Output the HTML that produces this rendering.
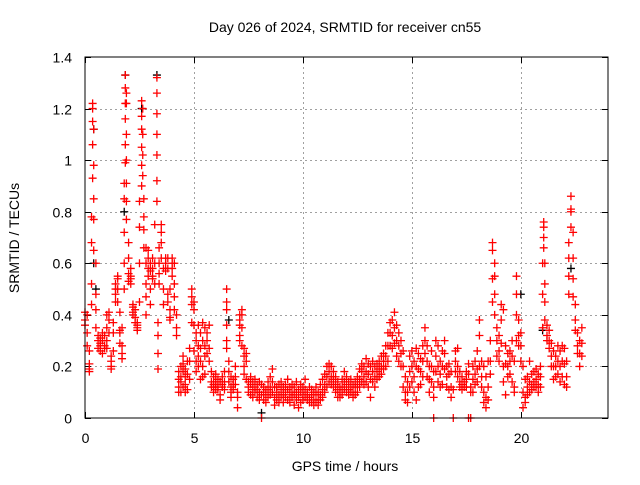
<!DOCTYPE html>
<html><head><meta charset="utf-8"><style>
body{margin:0;background:#fff}
text{font-family:"Liberation Sans",sans-serif;font-size:14px;fill:#000}
</style></head><body>
<svg id="chart" width="640" height="480" xmlns="http://www.w3.org/2000/svg">
<rect width="640" height="480" fill="#fff"/>
<text x="345" y="32" text-anchor="middle">Day 026 of 2024, SRMTID for receiver cn55</text>
<text x="345" y="471" text-anchor="middle">GPS time / hours</text>
<text transform="translate(19,238) rotate(-90)" text-anchor="middle">SRMTID / TECUs</text>
<g id="grid"></g><g id="ticks"></g><g id="marks"></g>
<rect x="85" y="57" width="523" height="361" fill="none" stroke="#000"/>
</svg>
<script>
const xTicks=[0,5,10,15,20];
const yTicks=[0,0.2,0.4,0.6,0.8,1,1.2,1.4];
const yTickLabels=["0","0.2","0.4","0.6","0.8","1","1.2","1.4"];
const hours=[0,0.1,0.2,0.3,0.35,0.4,0.5,0.6,0.7,0.8,0.9,1.0,1.1,1.2,1.3,1.4,1.5,1.6,1.7,1.8,1.85,1.9,2.0,2.1,2.2,2.3,2.4,2.5,2.6,2.65,2.7,2.8,2.9,3.0,3.1,3.2,3.3,3.35,3.4,3.5,3.6,3.7,3.8,3.9,4.0,4.1,4.2,4.3,4.4,4.5,4.6,4.7,4.8,4.9,5.0,5.1,5.2,5.3,5.4,5.5,5.6,5.7,5.8,5.9,6.0,6.1,6.2,6.3,6.4,6.5,6.6,6.7,6.8,6.9,7.0,7.1,7.2,7.3,7.4,7.5,7.6,7.7,7.8,7.9,8.0,8.1,8.2,8.3,8.4,8.5,8.6,8.7,8.8,8.9,9.0,9.1,9.2,9.3,9.4,9.5,9.6,9.7,9.8,9.9,10.0,10.1,10.2,10.3,10.4,10.5,10.6,10.7,10.8,10.9,11.0,11.1,11.2,11.3,11.4,11.5,11.6,11.7,11.8,11.9,12.0,12.1,12.2,12.3,12.4,12.5,12.6,12.7,12.8,12.9,13.0,13.1,13.2,13.3,13.4,13.5,13.6,13.7,13.8,13.9,14.0,14.1,14.2,14.3,14.4,14.5,14.6,14.7,14.8,14.9,15.0,15.1,15.2,15.3,15.4,15.5,15.6,15.7,15.8,15.9,16.0,16.1,16.2,16.3,16.4,16.5,16.6,16.7,16.8,16.9,17.0,17.1,17.2,17.3,17.4,17.5,17.6,17.7,17.8,17.9,18.0,18.1,18.2,18.3,18.4,18.5,18.6,18.7,18.8,18.9,19.0,19.1,19.2,19.3,19.4,19.5,19.6,19.7,19.8,19.9,20.0,20.1,20.2,20.3,20.4,20.5,20.6,20.7,20.8,20.9,21.0,21.05,21.1,21.2,21.3,21.4,21.5,21.6,21.7,21.8,21.9,22.0,22.1,22.2,22.3,22.4,22.5,22.6,22.7,22.8];
const srmtid=[[0.38,0.41,0.36],[0.40,0.33,0.28],[0.19,0.18,0.26,0.21],[0.44,0.52,0.68,0.78],[0.93,1.06,1.15,1.2,1.22],[1.12,0.98,0.85,0.77,0.65],[0.6,0.48,0.42,0.35],[0.3,0.27,0.32],[0.26,0.29,0.31,0.28],[0.30,0.33,0.25],[0.28,0.32,0.27],[0.35,0.40,0.30,0.27],[0.38,0.41,0.33],[0.22,0.2,0.19,0.24],[0.26,0.33,0.37],[0.45,0.5,0.52,0.48],[0.54,0.55,0.5,0.45],[0.41,0.34,0.33,0.29],[0.23,0.25,0.28,0.35],[0.5,0.6,0.72,0.85,0.91],[0.99,1.06,1.16,1.22,1.28,1.33],[1.26,1.22,1.1,1.0,0.91,0.84,0.77],[0.68,0.62,0.56,0.53],[0.55,0.58,0.52,0.54],[0.44,0.43,0.41,0.4],[0.42,0.39,0.37],[0.36,0.35,0.37,0.34],[0.45,0.6,0.74,0.84],[0.9,0.98,1.05,1.12,1.17,1.23],[1.2,1.1,1.02,0.94],[0.85,0.78,0.73,0.66],[0.6,0.52,0.47,0.4,0.66],[0.65,0.62,0.58,0.55],[0.6,0.57,0.5,0.44],[0.55,0.58,0.54,0.62],[0.75,0.6,0.52],[0.84,0.92,1.02,1.1,1.18,1.26,1.32],[0.32,0.25,0.19,0.37],[0.52,0.56,0.6,0.66],[0.75,0.72,0.68,0.62],[0.58,0.44,0.5],[0.62,0.6,0.57],[0.62,0.58,0.48,0.45],[0.38,0.39,0.42,0.5],[0.55,0.6,0.62,0.58],[0.6,0.52,0.47,0.42],[0.4,0.35,0.32],[0.1,0.15,0.18,0.12],[0.14,0.2,0.16,0.1],[0.24,0.18,0.12,0.21],[0.16,0.13,0.1,0.19],[0.22,0.17,0.11],[0.27,0.22,0.15],[0.37,0.44,0.47,0.5],[0.45,0.42,0.36,0.26],[0.33,0.3,0.22,0.18],[0.36,0.28,0.24,0.2],[0.33,0.27,0.22,0.15],[0.37,0.3,0.2,0.16],[0.35,0.28,0.24,0.17],[0.3,0.33,0.25],[0.36,0.27,0.22],[0.18,0.14,0.12],[0.16,0.12,0.1,0.13],[0.14,0.11,0.13,0.17],[0.12,0.15,0.11],[0.14,0.09,0.07],[0.13,0.16,0.12],[0.18,0.14,0.11],[0.5,0.45,0.42,0.36,0.3,0.27],[0.22,0.18,0.14],[0.16,0.12,0.1,0.08],[0.15,0.13,0.11],[0.2,0.16,0.13],[0.1,0.08,0.04],[0.4,0.38,0.36,0.32,0.3],[0.42,0.4,0.35,0.28],[0.27,0.24,0.2,0.17],[0.25,0.22,0.15],[0.12,0.1,0.14],[0.13,0.09,0.16],[0.11,0.14,0.08],[0.12,0.15,0.1],[0.08,0.11,0.13],[0.14,0.1,0.07],[0.0,0.13,0.09],[0.12,0.1,0.07],[0.09,0.06,0.11],[0.14,0.11,0.08],[0.16,0.12,0.09],[0.19,0.14,0.1],[0.12,0.08,0.05],[0.1,0.07,0.12],[0.13,0.09,0.06],[0.11,0.08,0.14],[0.09,0.12,0.06],[0.1,0.13,0.08],[0.15,0.11,0.07],[0.09,0.06,0.12],[0.13,0.1,0.08],[0.12,0.09,0.05],[0.14,0.1,0.07],[0.11,0.08,0.04],[0.13,0.1,0.06],[0.12,0.09,0.07],[0.15,0.11,0.08],[0.1,0.07,0.09],[0.12,0.08,0.06],[0.09,0.06,0.11],[0.07,0.05,0.1],[0.12,0.09,0.06],[0.1,0.07,0.05],[0.13,0.09,0.07],[0.15,0.11,0.08],[0.17,0.13,0.1],[0.2,0.16,0.12],[0.21,0.18,0.14],[0.2,0.16,0.13],[0.18,0.15,0.12],[0.16,0.13,0.1],[0.14,0.11,0.08],[0.12,0.1,0.08],[0.15,0.12,0.09],[0.18,0.14,0.11],[0.16,0.13,0.1],[0.14,0.11,0.09],[0.15,0.12,0.1],[0.13,0.1,0.08],[0.14,0.12,0.09],[0.16,0.13,0.1],[0.19,0.15,0.12],[0.21,0.18,0.14],[0.2,0.16,0.13],[0.23,0.18,0.14],[0.21,0.17,0.12],[0.2,0.15,0.08],[0.22,0.18,0.14],[0.2,0.16,0.12],[0.21,0.18,0.15],[0.22,0.19,0.16],[0.24,0.2,0.17],[0.25,0.22,0.19],[0.28,0.24,0.2],[0.33,0.28,0.22],[0.37,0.33,0.28],[0.38,0.32,0.27],[0.41,0.35,0.29],[0.36,0.3,0.24],[0.33,0.28,0.22],[0.3,0.25,0.2],[0.26,0.2,0.12],[0.16,0.1,0.07],[0.14,0.1,0.06],[0.24,0.18,0.12],[0.26,0.2,0.14],[0.22,0.16,0.1],[0.27,0.2,0.07],[0.25,0.19,0.12],[0.23,0.18,0.13],[0.28,0.22,0.16],[0.35,0.3,0.25],[0.28,0.22,0.16],[0.2,0.15,0.1],[0.26,0.2,0.14],[0.18,0.12,0.08,0],[0.3,0.24,0.18],[0.28,0.2,0.14],[0.22,0.17,0.12],[0.26,0.2,0.13],[0.3,0.25,0.19],[0.2,0.16,0.12],[0.21,0.17,0.11],[0.18,0.12,0.08],[0.0,0.11],[0.26,0.22,0.18],[0.27,0.2,0.16],[0.18,0.14,0.12],[0.16,0.13,0.11],[0.14,0.12],[0.18,0.15,0.12],[0.21,0.17,0.0],[0.0,0.12,0.1],[0.2,0.15,0.1],[0.22,0.17,0.13],[0.26,0.19,0.14],[0.38,0.32,0.2],[0.22,0.16,0.12],[0.2,0.1,0.06],[0.16,0.08,0.04],[0.22,0.12,0.07],[0.3,0.22,0.17],[0.45,0.54,0.65,0.68],[0.6,0.55,0.48,0.4],[0.35,0.3,0.24],[0.32,0.26,0.22],[0.44,0.38,0.29],[0.42,0.2,0.14],[0.28,0.21,0.09],[0.25,0.2,0.16],[0.26,0.22,0.17],[0.3,0.24,0.14],[0.22,0.12,0.1],[0.55,0.48,0.4,0.3],[0.38,0.32,0.28],[0.33,0.28,0.22],[0.2,0.1,0.04],[0.15,0.08,0.06],[0.16,0.12,0.09],[0.22,0.14,0.1],[0.17,0.13,0.11],[0.18,0.14,0.12],[0.19,0.15,0.12],[0.17,0.13,0.1],[0.2,0.16,0.12],[0.35,0.48,0.6],[0.66,0.7,0.74,0.76],[0.6,0.52,0.45,0.38],[0.36,0.32,0.3],[0.34,0.3,0.27],[0.29,0.24,0.2],[0.26,0.2,0.15],[0.24,0.2,0.16],[0.28,0.22,0.17],[0.26,0.2,0.14],[0.28,0.22,0.16],[0.27,0.21,0.13],[0.22,0.16,0.12],[0.48,0.55,0.62,0.68],[0.74,0.8,0.81,0.86],[0.72,0.62,0.54,0.47],[0.44,0.38,0.34],[0.33,0.28,0.25],[0.3,0.25,0.2],[0.35,0.29,0.24]];
const blackHours=[0.4,0.4,1.85,1.8,2.6,3.3,8.1,20.0,21.0,22.3,0.5,6.6];
const blackValues=[1.12,0.6,1.33,0.8,1.2,1.33,0.02,0.48,0.34,0.58,0.5,0.38];

const NS="http://www.w3.org/2000/svg";
const X0=85,X1=608,Y0=418,Y1=57,XMAX=24,YMAX=1.4;
function xs(v){return X0+(X1-X0)*v/XMAX;}
function ys(v){return Y0-(Y0-Y1)*v/YMAX;}
const grid=document.getElementById('grid'),ticks=document.getElementById('ticks'),marks=document.getElementById('marks');
function line(p,x1,y1,x2,y2,st,dash){const l=document.createElementNS(NS,'line');l.setAttribute('x1',x1);l.setAttribute('y1',y1);l.setAttribute('x2',x2);l.setAttribute('y2',y2);l.setAttribute('stroke',st);if(dash)l.setAttribute('stroke-dasharray',dash);p.appendChild(l);return l;}
function txt(p,x,y,s,anchor){const t=document.createElementNS(NS,'text');t.setAttribute('x',x);t.setAttribute('y',y);t.setAttribute('text-anchor',anchor);t.textContent=s;p.appendChild(t);return t;}
xTicks.forEach(v=>{const x=Math.round(xs(v))+0.5;
 if(v>0){const g=line(grid,x,Y1,x,Y0,'#a0a0a0','2,3');
 
 }
 line(ticks,x,Y0,x,Y0-6,'#000');line(ticks,x,Y1,x,Y1+6,'#000');
 const t=txt(ticks,x,443,String(v),'middle');
 
 });
yTicks.forEach((v,i)=>{const y=Math.round(ys(v))+0.5;
 if(v>0&&v<1.4){const g=line(grid,X0,y,X1,y,'#a0a0a0','2,3');
 
 }
 line(ticks,X0,y,X0+6,y,'#000');line(ticks,X1,y,X1-6,y,'#000');
 const t=txt(ticks,72,y+5,yTickLabels[i],'end');
 
 });
function plus(x,y,col,name){const p=document.createElementNS(NS,'path');
 p.setAttribute('d',`M${x-4},${y}h8M${x},${y-4}v8`);p.setAttribute('stroke',col);p.setAttribute('stroke-width','1.3');p.setAttribute('fill','none');
 
 
 marks.appendChild(p);}
blackHours.forEach((h,i)=>plus(xs(h),ys(blackValues[i]),'#000','black-point'));
hours.forEach((h,i)=>srmtid[i].forEach(v=>plus(xs(h),ys(v),'#f00','srmtid-point')));
</script>
</body></html>
